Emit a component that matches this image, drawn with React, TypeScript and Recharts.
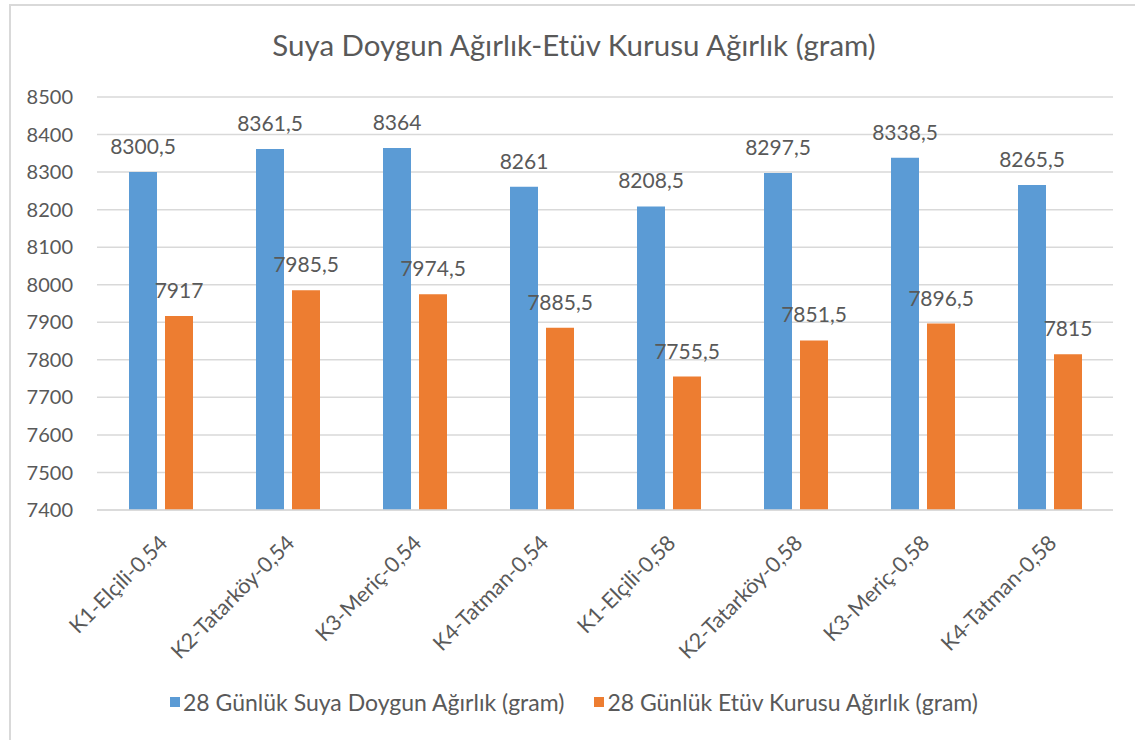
import React from 'react'
import { BarChart, Bar, XAxis, YAxis, CartesianGrid, LabelList } from 'recharts'

const categories = [
  'K1-Elçili-0,54',
  'K2-Tatarköy-0,54',
  'K3-Meriç-0,54',
  'K4-Tatman-0,54',
  'K1-Elçili-0,58',
  'K2-Tatarköy-0,58',
  'K3-Meriç-0,58',
  'K4-Tatman-0,58',
]
const doygunValues = [8300.5, 8361.5, 8364, 8261, 8208.5, 8297.5, 8338.5, 8265.5]
const etuvValues = [7917, 7985.5, 7974.5, 7885.5, 7755.5, 7851.5, 7896.5, 7815]
const yTicks = [7400, 7500, 7600, 7700, 7800, 7900, 8000, 8100, 8200, 8300, 8400, 8500]

const series = [
  { key: 'doygun', name: '28 Günlük Suya Doygun Ağırlık (gram)', color: '#5B9BD5' },
  { key: 'etuv', name: '28 Günlük Etüv Kurusu Ağırlık (gram)', color: '#ED7D31' },
]

const data = categories.map((name, i) => ({
  name,
  doygun: doygunValues[i],
  etuv: etuvValues[i],
}))

const FONT = 'Lato, "Open Sans", sans-serif'
const TEXT = '#595959'

const fmt = (v: any) => String(v).replace('.', ',')

const XTick = (props: any) => {
  const { x, payload } = props
  const ax = x + 3
  const ay = 539
  return (
    <text
      x={ax}
      y={ay}
      dy="0.35em"
      transform={`rotate(-45 ${ax} ${ay})`}
      textAnchor="end"
      fill={TEXT}
      fontSize={21.5}
      fontFamily={FONT}
    >
      {payload.value}
    </text>
  )
}

export default function App() {
  return (
    <div style={{ position: 'absolute', left: 0, top: 0, width: 1135, height: 740, background: '#fff', overflow: 'hidden', fontFamily: FONT }}>
      <div style={{ position: 'absolute', left: 9, top: 4, width: 1140, height: 760, border: '2px solid #d9d9d9', boxSizing: 'border-box' }} />
      <div style={{ position: 'absolute', left: 0, width: 1148, top: 27, textAlign: 'center', fontSize: 29.5, color: TEXT }}>
        Suya Doygun Ağırlık-Etüv Kurusu Ağırlık (gram)
      </div>
      <div style={{ position: 'absolute', left: 0, top: 0 }}>
        <BarChart
          width={1135}
          height={740}
          data={data}
          margin={{ top: 97, right: 22, bottom: 0, left: 0 }}
          barSize={28}
          barGap={8}
        >
          <CartesianGrid vertical={false} stroke="#d9d9d9" strokeWidth={1.5} />
          <XAxis
            dataKey="name"
            height={230}
            tickLine={false}
            axisLine={{ stroke: '#d9d9d9', strokeWidth: 1.5 }}
            tick={<XTick />}
            interval={0}
          />
          <YAxis
            width={97}
            domain={[7400, 8500]}
            ticks={yTicks}
            tickLine={false}
            axisLine={false}
            tickSize={0}
            tickMargin={24}
            tick={{ fill: TEXT, fontSize: 20, fontFamily: FONT }}
            allowDataOverflow
          />
          {series.map((s) => (
            <Bar key={s.key} dataKey={s.key} name={s.name} fill={s.color} isAnimationActive={false}>
              <LabelList
                dataKey={s.key}
                position="top"
                offset={18}
                formatter={fmt}
                fill={TEXT}
                fontSize={21}
                fontFamily={FONT}
              />
            </Bar>
          ))}
        </BarChart>
      </div>
      <div style={{ position: 'absolute', left: 0, width: 1148, top: 688, display: 'flex', justifyContent: 'center', alignItems: 'center', gap: 30, fontSize: 23, color: TEXT }}>
        {series.map((s) => (
          <div key={s.key} style={{ display: 'flex', alignItems: 'center' }}>
            <span style={{ display: 'inline-block', width: 10, height: 10, background: s.color, marginRight: 3 }} />
            <span>{s.name}</span>
          </div>
        ))}
      </div>
    </div>
  )
}
